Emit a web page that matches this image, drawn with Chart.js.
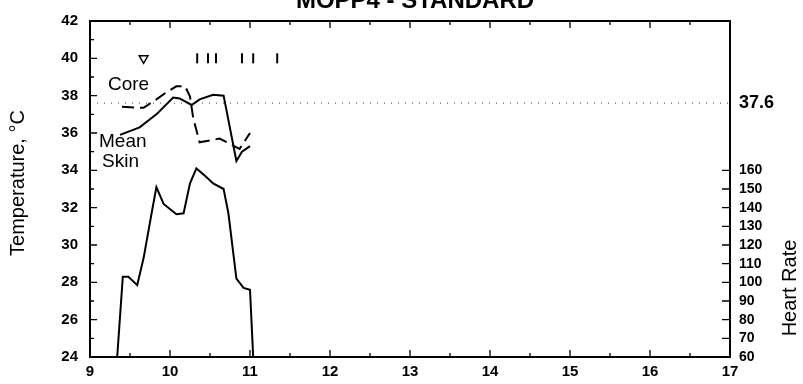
<!DOCTYPE html>
<html>
<head>
<meta charset="utf-8">
<script src="https://cdn.jsdelivr.net/npm/chart.js@4/dist/chart.umd.min.js"></script>
<style>
  body { margin: 0; background: #fff; }
  #wrap { width: 803px; height: 384px; }
</style>
</head>
<body>
<div id="wrap"><canvas id="c" width="803" height="384"></canvas></div>
<script>
// time in hours, temps in deg C, heart rate in beats/min
const skinTime = [9.375, 9.62, 9.83, 10.04, 10.12, 10.27, 10.37, 10.54, 10.67, 10.83, 10.9, 11.0];
const skinTemp = [35.9, 36.3, 37.0, 37.9, 37.85, 37.5, 37.8, 38.05, 38.0, 34.5, 35.0, 35.3];

const coreTime = [9.4, 9.67, 9.83, 9.96, 10.08, 10.19, 10.25, 10.29, 10.37, 10.5, 10.62, 10.8, 10.87, 11.0];
const coreTemp = [37.4, 37.35, 37.8, 38.2, 38.5, 38.5, 37.95, 36.8, 35.5, 35.6, 35.7, 35.3, 35.15, 36.0];

const hrTime = [9.34, 9.41, 9.48, 9.59, 9.67, 9.77, 9.83, 9.92, 10.08, 10.17, 10.25, 10.33, 10.44, 10.54, 10.67, 10.73, 10.83, 10.92, 11.0, 11.04];
const hrValue = [60, 103, 103, 98.5, 113, 137, 151, 142, 136.5, 137, 153, 161, 157, 153, 150, 137, 102, 97, 96, 60];

const refTemp = 37.6;
const triangleTime = [9.67];
const barTimes = [10.34, 10.475, 10.575, 10.9, 11.04, 11.34];
const markerTemp = 40;

const xTicks = [9, 10, 11, 12, 13, 14, 15, 16, 17];
const hrTicks = [60, 70, 80, 90, 100, 110, 120, 130, 140, 150, 160];

const FONT = "'Liberation Sans', Arial, Helvetica, sans-serif";
const toPts = (xs, ys) => xs.map((x, i) => ({x: x, y: ys[i]}));
// right axis: 60 bpm sits on 24 C, 10 bpm per degree
const hrOf = t => 60 + (t - 24) * 10;

const boxPlugin = {
  id: 'box',
  afterDraw(chart) {
    const ctx = chart.ctx, a = chart.chartArea;
    const sx = chart.scales.x, sy = chart.scales.y, sh = chart.scales.hr;
    ctx.save();
    ctx.strokeStyle = '#000';
    ctx.lineWidth = 2;
    ctx.strokeRect(a.left, a.top, a.right - a.left, a.bottom - a.top);
    ctx.lineWidth = 1.3;
    ctx.beginPath();
    for (let v = 9; v <= 17.001; v += 0.5) {
      const px = sx.getPixelForValue(v), len = Number.isInteger(v) ? 7 : 4;
      ctx.moveTo(px, a.bottom); ctx.lineTo(px, a.bottom - len);
      ctx.moveTo(px, a.top); ctx.lineTo(px, a.top + len);
    }
    for (let v = 24; v <= 42; v++) {
      const py = sy.getPixelForValue(v), len = v % 2 === 0 ? 7 : 4;
      ctx.moveTo(a.left, py); ctx.lineTo(a.left + len, py);
    }
    hrTicks.forEach(v => {
      const py = sh.getPixelForValue(v);
      ctx.moveTo(a.right, py); ctx.lineTo(a.right - 8, py);
    });
    ctx.stroke();

    ctx.fillStyle = '#000';
    // title, cut off by the top edge
    ctx.font = 'bold 24px ' + FONT;
    ctx.textAlign = 'center';
    ctx.textBaseline = 'alphabetic';
    ctx.fillText('MOPP4 - STANDARD', 415, 8);

    // series labels
    ctx.font = '19px ' + FONT;
    ctx.textAlign = 'left';
    ctx.textBaseline = 'middle';
    ctx.fillText('Core', 108, 85);
    ctx.fillText('Mean', 99, 142);
    ctx.fillText('Skin', 102, 162);

    // axis titles, both reading bottom to top
    ctx.font = '20px ' + FONT;
    ctx.textAlign = 'center';
    ctx.save();
    ctx.translate(18, 183);
    ctx.rotate(-Math.PI / 2);
    ctx.fillText('Temperature, \u00B0C', 0, 0);
    ctx.restore();
    ctx.save();
    ctx.translate(790, 288);
    ctx.rotate(-Math.PI / 2);
    ctx.fillText('Heart Rate', 0, 0);
    ctx.restore();
    ctx.restore();
  }
};

new Chart(document.getElementById('c'), {
  type: 'line',
  data: {
    datasets: [
      {
        label: 'Mean Skin',
        data: toPts(skinTime, skinTemp),
        borderColor: '#000', borderWidth: 2, pointRadius: 0, tension: 0, yAxisID: 'y'
      },
      {
        label: 'Core',
        data: toPts(coreTime, coreTemp),
        borderColor: '#000', borderWidth: 2, borderDash: [12, 6], pointRadius: 0, tension: 0, yAxisID: 'y'
      },
      {
        label: 'Heart Rate',
        data: toPts(hrTime, hrValue),
        borderColor: '#000', borderWidth: 2, pointRadius: 0, tension: 0, yAxisID: 'hr'
      },
      {
        label: '37.6',
        data: [{x: 9, y: refTemp}, {x: 17, y: refTemp}],
        borderColor: '#444', borderWidth: 1, borderDash: [1, 6], pointRadius: 0, yAxisID: 'y'
      },
      {
        label: 'start',
        data: triangleTime.map(t => ({x: t, y: markerTemp})),
        showLine: false, pointStyle: 'triangle', rotation: 180, pointRadius: 5,
        pointBackgroundColor: '#fff', pointBorderColor: '#000', pointBorderWidth: 1.5, yAxisID: 'y'
      },
      {
        label: 'events',
        data: barTimes.map(t => ({x: t, y: markerTemp})),
        showLine: false, pointStyle: 'line', rotation: 90, pointRadius: 5,
        pointBorderColor: '#000', pointBorderWidth: 2, yAxisID: 'y'
      }
    ]
  },
  options: {
    responsive: false,
    animation: false,
    layout: { padding: { top: 15, left: 0, right: 0, bottom: 0 } },
    plugins: { legend: { display: false }, tooltip: { enabled: false } },
    scales: {
      x: {
        type: 'linear', position: 'bottom', min: 9, max: 17,
        afterBuildTicks: s => { s.ticks = xTicks.map(v => ({value: v})); },
        afterFit: s => { s.height = 27; },
        grid: { display: false, drawTicks: false },
        border: { display: false },
        ticks: { color: '#000', padding: 6, font: { family: FONT, size: 15, weight: 'bold' } }
      },
      y: {
        type: 'linear', position: 'left', min: 24, max: 42,
        ticks: { stepSize: 2, color: '#000', padding: 12, font: { family: FONT, size: 15, weight: 'bold' } },
        afterFit: s => { s.width = 90; },
        grid: { display: false, drawTicks: false },
        border: { display: false }
      },
      hr: {
        type: 'linear', position: 'right', min: 60, max: 240,
        afterBuildTicks: s => {
          s.ticks = hrTicks.map(v => ({value: v})).concat([{value: hrOf(refTemp)}]);
        },
        afterFit: s => { s.width = 73; },
        grid: { display: false, drawTicks: false },
        border: { display: false },
        ticks: {
          color: '#000', padding: 9,
          callback: v => (Math.abs(v - hrOf(refTemp)) < 0.01 ? '37.6' : v),
          font: c => (c.tick && Math.abs(c.tick.value - hrOf(refTemp)) < 0.01)
            ? { family: FONT, size: 18, weight: 'bold' }
            : { family: FONT, size: 14, weight: 'bold' }
        }
      }
    }
  },
  plugins: [boxPlugin]
});
</script>
</body>
</html>
